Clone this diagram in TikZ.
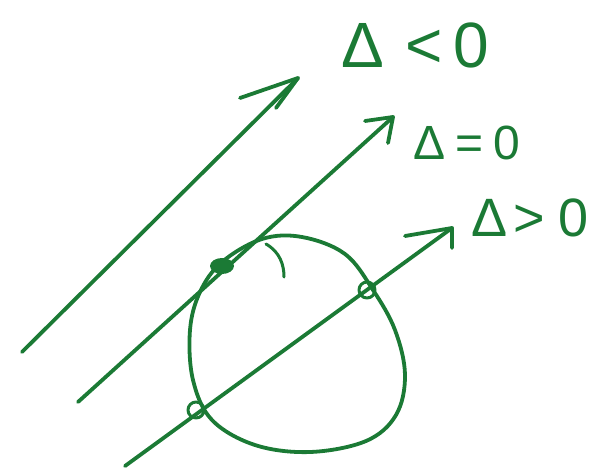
\documentclass[tikz,border=0pt]{standalone}
\usepackage{fontspec}
\setmainfont{Liberation Sans}
\definecolor{pen}{HTML}{1B7A35}
\begin{document}
\begin{tikzpicture}[x=1pt,y=-1pt,
  stroke/.style={draw=pen,line width=3.8pt,line cap=round,line join=round},
  lbl/.style={text=pen,inner sep=0pt,anchor=center}]
\useasboundingbox (0,0) rectangle (602,475);
% coordinates
\coordinate (s1) at (22,352);  \coordinate (t1) at (298,78);
\coordinate (s2) at (78,402);  \coordinate (t2) at (393,117);
\coordinate (s3) at (125,466); \coordinate (t3) at (452,228);
\coordinate (tp) at (222,266);
\coordinate (p1) at (196,410); \coordinate (p2) at (367,290);
% circle
\draw[stroke] plot[smooth cycle,tension=0.6] coordinates {(222,262) (262,239) (302,237) (345,254) (373,290) (395,330) (405,375) (396,415) (366,441) (310,452) (255,445) (212,420) (193,380) (190,330) (200,292)};
% lines
\draw[stroke] (s1) -- (t1);
\draw[stroke] (s2) -- (t2);
\draw[stroke] (s3) -- (t3);
% arrowheads
\draw[stroke] (240,98) -- (t1) -- (276,108);
\draw[stroke] (365,121) -- (t2) -- (388,143);
\draw[stroke] (405,236) -- (t3) -- (452,248);
% contact points
\fill[pen] (tp) ellipse (12 and 8);
\draw[stroke,line width=3pt] (p1) circle (8);
\draw[stroke,line width=3pt] (p2) circle (8);
\draw[stroke,line width=3pt] (266,244) .. controls (280,252) and (284,265) .. (284,277);
% labels
\node[lbl,font=\fontsize{64}{64}\selectfont] (l1) at (415,45) {Δ\hspace{22pt}<\hspace{10pt}0};
\node[lbl,font=\fontsize{48}{48}\selectfont] (l2) at (467,143) {Δ\hspace{10pt}=\hspace{10pt}0};
\node[lbl,font=\fontsize{54}{54}\selectfont] (l3) at (530,218) {Δ\hspace{6pt}>\hspace{14pt}0};
\end{tikzpicture}
\end{document}
